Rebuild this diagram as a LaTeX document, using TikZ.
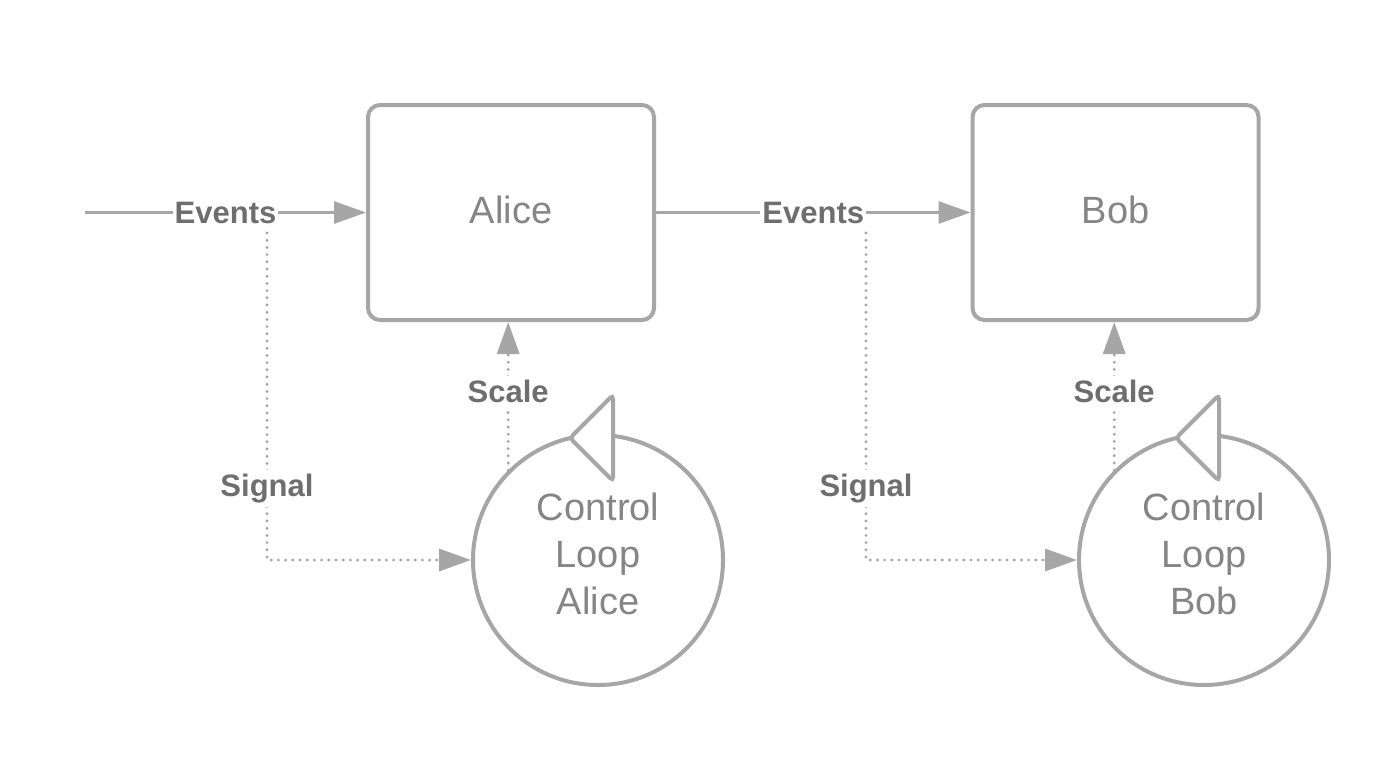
\documentclass[tikz,border=0pt]{standalone}
\usepackage{fontspec}
\setmainfont{Liberation Sans}
\usetikzlibrary{arrows.meta}
\definecolor{linegray}{HTML}{A6A6A6}
\definecolor{textgray}{HTML}{858585}
\definecolor{labelgray}{HTML}{6E6E6E}

\begin{document}
\begin{tikzpicture}[
			x=0.5pt, y=-0.5pt,
			box/.style={rectangle,rounded corners=6pt,draw=linegray,line width=2pt,
			minimum width=143pt,minimum height=107.5pt,inner sep=0pt,text depth=3pt,
			text=textgray,font=\fontsize{19}{23}\selectfont},
			ctrl/.style={circle,draw=linegray,line width=2pt,fill=white,
			minimum size=125pt,inner sep=0pt,align=center,text depth=6pt,
			text=textgray,font=\fontsize{19}{23.5}\selectfont},
			events/.style={>={Triangle[length=16pt,width=11pt]},draw=linegray,line width=1.5pt,->},
			signal/.style={>={Triangle[length=16pt,width=11pt]},draw=linegray,line width=1.6pt,
			line cap=round,dash pattern=on 0pt off 3.6pt,->},
			tag/.style={fill=white,inner sep=2pt,text=labelgray,
			font=\bfseries\fontsize{15.5}{18}\selectfont},
			tri/.style={draw=linegray,line width=2pt,fill=white,rounded corners=2pt}
			]
			\useasboundingbox (0,0) rectangle (1400,756);
			\node[box] (alice) at (511,212.5) {Alice};
			\node[box] (bob) at (1115.5,212.5) {Bob};
			\node[ctrl] (ctrlA) at (598,560) {Control\\Loop\\Alice};
			\node[ctrl] (ctrlB) at (1204,560) {Control\\Loop\\Bob};
			\coordinate (in) at (85,212.5);
			\coordinate (sigA) at (267,233);
			\coordinate (sigB) at (866,233);
			% event flow
			\draw[events] (in) -- node[tag,inner sep=1pt] {Events} (alice.west);
			\draw[events] (alice.east) -- node[tag,inner sep=1pt] {Events} (bob.west);
			% signals into the loops
			\draw[signal] (sigA) |- node[tag,pos=0.39] {Signal} (ctrlA.west);
			\draw[signal] (sigB) |- node[tag,pos=0.39] {Signal} (ctrlB.west);
			% scaling back up
			\draw[signal] (ctrlA.135) -- node[tag,pos=0.53] {Scale} (ctrlA.135 |- alice.south);
			\draw[signal] (ctrlB.135) -- node[tag,pos=0.53] {Scale} (ctrlB.135 |- bob.south);
			\foreach \c in {ctrlA, ctrlB}
				\draw[tri] ([shift={(-28,5)}]\c.north) -- ([shift={(15,-38)}]\c.north)
					-- ([shift={(15,48)}]\c.north) -- cycle;
		\end{tikzpicture}
\end{document}
